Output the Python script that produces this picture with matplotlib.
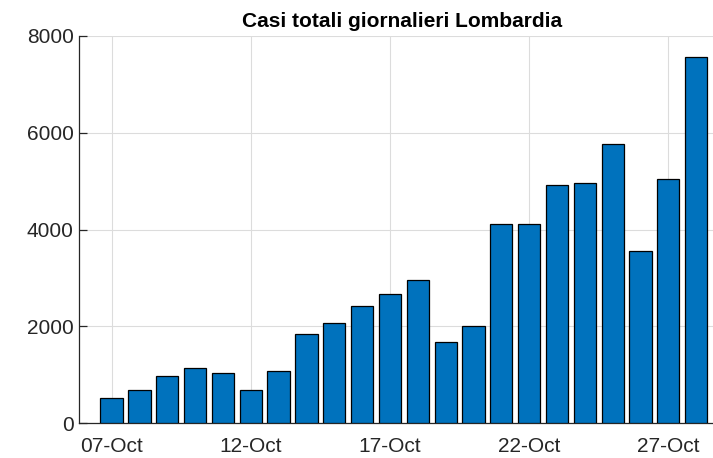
import matplotlib
matplotlib.use("Agg")
import matplotlib.pyplot as plt
import matplotlib.dates as mdates
import pandas as pd

dates = ["2020-10-07", "2020-10-08", "2020-10-09", "2020-10-10", "2020-10-11",
         "2020-10-12", "2020-10-13", "2020-10-14", "2020-10-15", "2020-10-16",
         "2020-10-17", "2020-10-18", "2020-10-19", "2020-10-20", "2020-10-21",
         "2020-10-22", "2020-10-23", "2020-10-24", "2020-10-25", "2020-10-26",
         "2020-10-27", "2020-10-28"]
cases = [517, 682, 978, 1143, 1034, 695, 1081, 1846, 2067, 2425,
         2667, 2969, 1687, 2018, 4126, 4126, 4920, 4961, 5760, 3568,
         5036, 7566]
title = "Casi totali giornalieri Lombardia"
yticks = [0, 2000, 4000, 6000, 8000]

plt.rcParams['font.family'] = ['Liberation Sans', 'DejaVu Sans']

x = pd.to_datetime(dates)
fig = plt.figure(figsize=(7.13, 4.58), dpi=100)
ax = fig.add_axes([0.1104, 0.0758, 0.9078, 0.8456])

ax.bar(x, cases, width=0.8, color="#0072BD", edgecolor="black", linewidth=0.9, zorder=3)

ax.set_xlim(x[0] - pd.Timedelta(days=1.18), x[-1] + pd.Timedelta(days=1.07))
ax.set_ylim(0, 8000)
ax.set_yticks(yticks)
ax.xaxis.set_major_locator(mdates.DayLocator(bymonthday=[7, 12, 17, 22, 27]))
ax.xaxis.set_major_formatter(mdates.DateFormatter("%d-%b"))

ax.grid(True, color="#dcdcdc", linewidth=0.8, zorder=0)
ax.set_axisbelow(True)
for s in ["top", "right"]:
    ax.spines[s].set_visible(False)
for s in ["left", "bottom"]:
    ax.spines[s].set_color("#262626")
    ax.spines[s].set_linewidth(0.9)
ax.tick_params(direction="in", length=6, width=0.9, colors="#262626",
               labelsize=15, labelcolor="#262626")
ax.tick_params(axis="x", pad=10)
ax.set_title(title, fontsize=15, fontweight="bold", color="black", pad=6.5)

fig.savefig("out.png", dpi=100)
